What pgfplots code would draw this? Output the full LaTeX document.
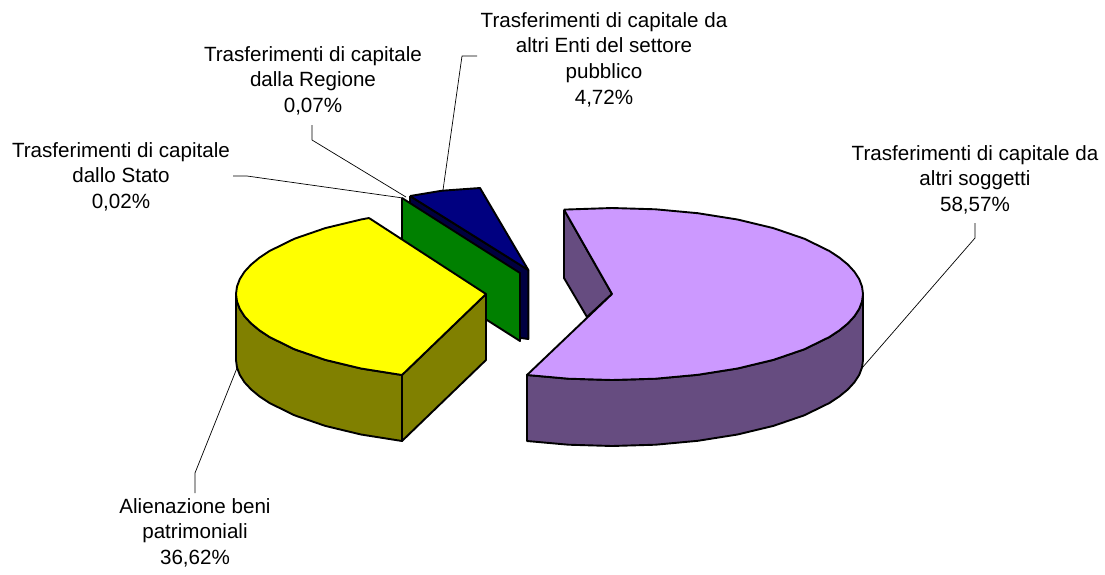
\documentclass[border=0pt]{standalone}
\usepackage{fontspec}
\setmainfont{Liberation Sans}
\usepackage{pgfplots}
\pgfplotsset{compat=1.18}
\definecolor{navyc}{HTML}{000080}
\definecolor{navyd}{HTML}{000040}
\definecolor{greenc}{HTML}{008000}
\definecolor{yellowc}{HTML}{FFFF00}
\definecolor{olivec}{HTML}{808000}
\definecolor{purplec}{HTML}{CC99FF}
\definecolor{purpled}{HTML}{664C80}
\tikzset{
  face/.style={draw=black,line width=1.9pt,fill=#1},
  leader/.style={draw=black,line width=0.7pt},
  lab/.style={align=center,font=\fontsize{20.6}{25.7}\selectfont,inner sep=0pt,anchor=north},
}
\begin{document}
\begin{tikzpicture}
\begin{axis}[
  at={(0,0)},anchor=south west,
  scale only axis,width=1105pt,height=574pt,
  xmin=0,xmax=1105,ymin=0,ymax=574,y dir=reverse,
  hide axis,clip=false,
  every axis plot/.append style={mark=none,line join=round},
]
% leader lines
\addplot[leader] coordinates {(233,176)(247,176)(403,198)};
\addplot[leader] coordinates {(312,125)(312,140)(406,197)};
\addplot[leader] coordinates {(477,56)(462,56)(443,190)};
\addplot[leader] coordinates {(975,223)(975,238)(862,368)};
\addplot[leader] coordinates {(195,493)(195,473)(237,368)};
% navy slice
\addplot[face=navyd] coordinates {(410,196)(528.3,270)(528.3,339)(521,338)(410,268)(410,196)};
\addplot[face=navyc] coordinates {(410,196)(442,190.7)(480,188)(528.3,270)(410,196)};
% green slice
\addplot[face=greenc] coordinates {(402,198)(520,273)(520,341)(402,266)(402,198)};
% purple slice
\addplot[face=purpled] coordinates {(564,209.6)(612,294)(587,317)(564,278)(564,209.6)};
\addplot[face=purpled] coordinates {(863,294)(862,301.5)(859.2,308.9)(854.4,316.3)(847.9,323.4)(839.5,330.3)(829.4,337)(804.3,349.3)(773.3,359.9)(737.5,368.5)(697.8,374.8)(655.6,378.7)(612,380)(568.4,378.7)(527,375)(527,441)(568.4,444.7)(612,446)(655.6,444.7)(697.8,440.8)(737.5,434.5)(773.3,425.9)(804.3,415.3)(829.4,403)(839.5,396.3)(847.9,389.4)(854.4,382.3)(859.2,374.9)(862,367.5)(863,360)(863,294)};
\addplot[face=purplec] coordinates {(564,209.6)(612,208)(655.6,209.3)(697.8,213.2)(737.5,219.5)(773.3,228.1)(804.3,238.7)(829.4,251)(839.5,257.7)(847.9,264.6)(854.4,271.7)(859.2,279.1)(862,286.5)(863,294)(862,301.5)(859.2,308.9)(854.4,316.3)(847.9,323.4)(839.5,330.3)(829.4,337)(804.3,349.3)(773.3,359.9)(737.5,368.5)(697.8,374.8)(655.6,378.7)(612,380)(568.4,378.7)(527,375)(612,294)(564,209.6)};
% yellow slice
\addplot[face=olivec] coordinates {(486,294)(486,360)(402,441)(402,375)(486,294)};
\addplot[face=olivec] coordinates {(236,294)(237,301.5)(239.8,308.9)(244.5,316.3)(251.1,323.4)(259.4,330.3)(269.5,337)(294.5,349.3)(325.3,359.9)(361,368.5)(402,375)(402,441)(361,434.5)(325.3,425.9)(294.5,415.3)(269.5,403)(259.4,396.3)(251.1,389.4)(244.5,382.3)(239.8,374.9)(237,367.5)(236,360)(236,294)};
\addplot[face=yellowc] coordinates {(369,218)(361,219.5)(325.3,228.1)(294.5,238.7)(269.5,251)(259.4,257.7)(251.1,264.6)(244.5,271.7)(239.8,279.1)(237,286.5)(236,294)(237,301.5)(239.8,308.9)(244.5,316.3)(251.1,323.4)(259.4,330.3)(269.5,337)(294.5,349.3)(325.3,359.9)(361,368.5)(402,375)(486,294)(369,218)};
% labels
\node[lab] at (axis cs:604,12) {Trasferimenti di capitale da\\altri Enti del settore\\pubblico\\4,72\%};
\node[lab] at (axis cs:313,46) {Trasferimenti di capitale\\dalla Regione\\0,07\%};
\node[lab] at (axis cs:121,142) {Trasferimenti di capitale\\dallo Stato\\0,02\%};
\node[lab] at (axis cs:975,145) {Trasferimenti di capitale da\\altri soggetti\\58,57\%};
\node[lab] at (axis cs:195,498) {Alienazione beni\\patrimoniali\\36,62\%};
\end{axis}
\pgfresetboundingbox
\path (0,0) rectangle (1105pt,574pt);
\end{tikzpicture}
\end{document}
